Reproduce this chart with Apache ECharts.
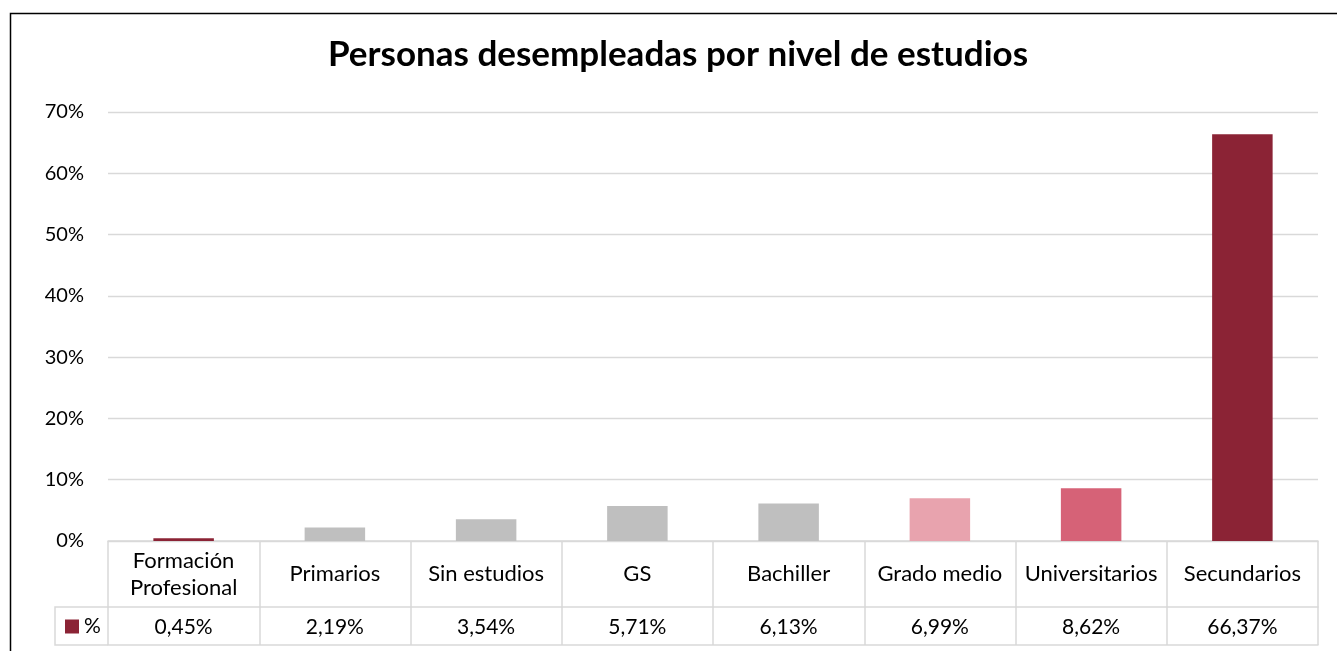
<!DOCTYPE html>
<html>
<head>
<meta charset="utf-8">
<script src="https://cdn.jsdelivr.net/npm/echarts@6/dist/echarts.min.js"></script>
<style>
  html, body { margin: 0; padding: 0; background: #fff; }
  #chart { width: 1337px; height: 651px; }
</style>
</head>
<body>
<div id="chart"></div>
<script>
// datos del gráfico
var categorias = ['Formación\nProfesional', 'Primarios', 'Sin estudios', 'GS', 'Bachiller', 'Grado medio', 'Universitarios', 'Secundarios'];
var valores = [0.45, 2.19, 3.54, 5.71, 6.13, 6.99, 8.62, 66.37];
var colores = ['#8B2335', '#BFBFBF', '#BFBFBF', '#BFBFBF', '#BFBFBF', '#E8A3AE', '#D66277', '#8B2335'];
var ticksY = [0, 10, 20, 30, 40, 50, 60, 70];

var FONT = 'Lato, "Open Sans", sans-serif';
var LINEA = '#d9d9d9';

function fmt(v) {
    return v.toFixed(2).replace('.', ',') + '%';
}

var myChart = echarts.init(document.getElementById('chart'));

var option = {
    animation: false,
    textStyle: { fontFamily: FONT, color: '#000' },
    title: {
        text: 'Personas desempleadas por nivel de estudios',
        left: 328,
        top: 37,
        padding: 0,
        textStyle: { fontFamily: FONT, fontSize: 35, fontWeight: 'bold', color: '#000' }
    },
    legend: {
        data: ['%'],
        left: 65,
        top: 616,
        padding: 0,
        icon: 'rect',
        itemWidth: 14,
        itemHeight: 14,
        itemGap: 5,
        textStyle: { fontFamily: FONT, fontSize: 21, color: '#000' }
    },
    grid: {
        left: 108,
        right: 19,
        top: 112,
        bottom: 110,
        containLabel: false
    },
    yAxis: {
        type: 'value',
        min: ticksY[0],
        max: ticksY[ticksY.length - 1],
        interval: 10,
        axisLine: { show: false },
        axisTick: { show: false },
        axisLabel: {
            formatter: '{value}%',
            margin: 24,
            fontFamily: FONT,
            fontSize: 20,
            color: '#000'
        },
        splitLine: { lineStyle: { color: LINEA, width: 1.3 } }
    },
    xAxis: [
        {   // fila de categorías
            type: 'category',
            data: categorias,
            position: 'bottom',
            axisLine: { show: true, lineStyle: { color: LINEA, width: 1.5 } },
            axisTick: { show: true, interval: 0, length: 104, lineStyle: { color: LINEA, width: 1.5 } },
            axisLabel: {
                interval: 0,
                margin: 33,
                verticalAlign: 'middle',
                lineHeight: 27,
                fontFamily: FONT,
                fontSize: 22,
                color: '#000'
            }
        },
        {   // fila de valores
            type: 'category',
            data: categorias,
            position: 'bottom',
            offset: 66,
            axisLine: { show: true, lineStyle: { color: LINEA, width: 1.5 } },
            axisTick: { show: false },
            axisLabel: {
                interval: 0,
                margin: 20,
                verticalAlign: 'middle',
                fontFamily: FONT,
                fontSize: 21,
                color: '#000',
                formatter: function (v, i) { return fmt(valores[i]); }
            }
        },
        {   // borde inferior de la tabla
            type: 'category',
            data: categorias,
            position: 'bottom',
            offset: 104,
            axisLine: { show: true, lineStyle: { color: LINEA, width: 1.5 } },
            axisTick: { show: false },
            axisLabel: { show: false }
        }
    ],
    graphic: [
        {   // borde del gráfico
            type: 'rect',
            silent: true,
            shape: { x: 10.5, y: 13.5, width: 1400, height: 700 },
            style: { fill: 'none', stroke: '#000', lineWidth: 1.5 }
        },
        {   // celda de leyenda
            type: 'polyline',
            silent: true,
            shape: { points: [[108, 607], [55, 607], [55, 645], [108, 645]] },
            style: { fill: 'none', stroke: LINEA, lineWidth: 1.5 }
        }
    ],
    series: [
        {
            name: '%',
            type: 'bar',
            xAxisIndex: 0,
            barCategoryGap: '60%',
            itemStyle: { color: '#8B2335' },
            data: valores.map(function (v, i) {
                return { value: v, itemStyle: { color: colores[i] } };
            })
        }
    ]
};

myChart.setOption(option);
</script>
</body>
</html>
